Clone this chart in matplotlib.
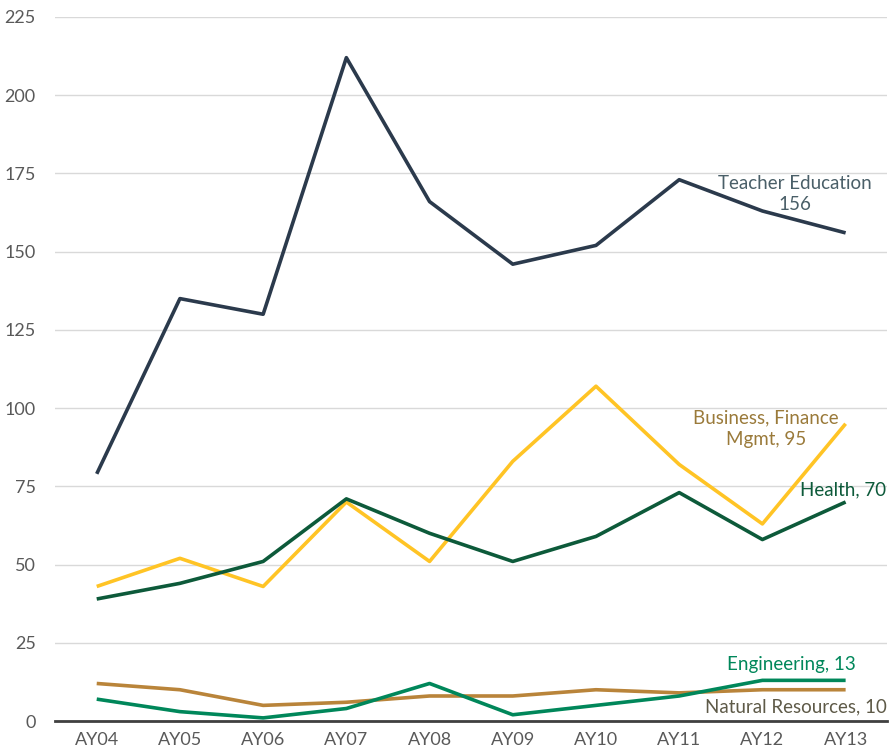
import matplotlib
matplotlib.use("Agg")
import matplotlib.pyplot as plt

years = ["AY04", "AY05", "AY06", "AY07", "AY08", "AY09", "AY10", "AY11", "AY12", "AY13"]
teacher = [79, 135, 130, 212, 166, 146, 152, 173, 163, 156]
business = [43, 52, 43, 70, 51, 83, 107, 82, 63, 95]
health = [39, 44, 51, 71, 60, 51, 59, 73, 58, 70]
engineering = [7, 3, 1, 4, 12, 2, 5, 8, 13, 13]
natural = [12, 10, 5, 6, 8, 8, 10, 9, 10, 10]
yticks = [0, 25, 50, 75, 100, 125, 150, 175, 200, 225]

plt.rcParams['font.family'] = ['Lato', 'DejaVu Sans']

fig = plt.figure(figsize=(8.89, 7.55), dpi=100)
ax = fig.add_axes([0.062, 0.045, 0.936, 0.9325])
x = list(range(len(years)))

ax.plot(x, teacher, color="#2B3A4C", lw=2.6, solid_capstyle="butt")
ax.plot(x, business, color="#FFC425", lw=2.6, solid_capstyle="butt")
ax.plot(x, health, color="#0D5A3A", lw=2.6, solid_capstyle="butt")
ax.plot(x, natural, color="#B9843A", lw=2.6, solid_capstyle="butt")
ax.plot(x, engineering, color="#00875A", lw=2.6, solid_capstyle="butt")

ax.set_xlim(-0.5, 9.5)
ax.set_ylim(0, 225)
ax.set_yticks(yticks)
ax.set_xticks(x)
ax.set_xticklabels(years)
ax.grid(axis="y", color="#D9D9D9", lw=1)
ax.set_axisbelow(True)
for s in ["top", "right", "left"]:
    ax.spines[s].set_visible(False)
ax.spines["bottom"].set_color("#404040")
ax.spines["bottom"].set_linewidth(2)
ax.tick_params(axis="both", length=0, labelsize=13, colors="#595959", pad=8)
ax.tick_params(axis="y", pad=14)

fs = 13.5
ax.text(8.39, 168.5, "Teacher Education\n156", ha="center", va="center", fontsize=fs,
        color="#4A5F68", linespacing=1.3)
ax.text(8.04, 93.5, "Business, Finance\nMgmt, 95", ha="center", va="center", fontsize=fs,
        color="#9A7A3A", linespacing=1.3)
ax.text(9.49, 74, "Health, 70", ha="right", va="center", fontsize=fs, color="#0D5A3A")
ax.text(8.35, 18, "Engineering, 13", ha="center", va="center", fontsize=fs, color="#00875A")
ax.text(9.49, 4.5, "Natural Resources, 10", ha="right", va="center", fontsize=fs, color="#5E5A48")

fig.savefig("out.png", dpi=100)
